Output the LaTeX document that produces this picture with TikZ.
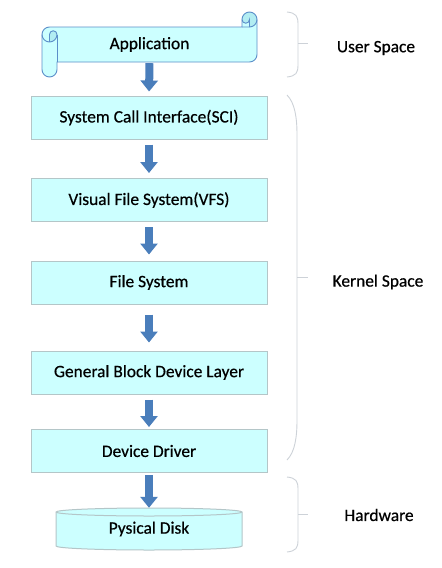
\documentclass[tikz,border=0pt]{standalone}
\usepackage{fontspec}
\setmainfont{Carlito}
\newfontfamily\lblfont{Carlito}[FakeBold=0.5]
\usetikzlibrary{arrows.meta}
\definecolor{boxfill}{HTML}{CCFFFF}
\definecolor{boxline}{HTML}{B4C6C8}
\definecolor{arrowblue}{HTML}{4A7EBB}
\definecolor{bracegray}{HTML}{CDD2D8}
\definecolor{scrollline}{HTML}{5B8EC9}
\definecolor{scrolldark}{HTML}{B2EDF2}
\begin{document}
\begin{tikzpicture}[x=1pt,y=-1pt,
  lbl/.style={font=\lblfont\fontsize{17.4}{20}\selectfont, inner sep=0pt},
  layer/.style={lbl, draw=boxline, fill=boxfill, line width=1pt,
    minimum width=236pt, minimum height=43pt},
  flow/.style={arrowblue, line width=8pt, -{Triangle[width=17pt,length=11pt]}},
  bracestyle/.style={draw=bracegray, line width=0.9pt},
  scrollstroke/.style={draw=scrollline, line width=0.9pt}]
\useasboundingbox (0,0) rectangle (442,568);
\fill[white] (0,0) rectangle (442,568);

% Application scroll
\fill[boxfill] (42,34.5) arc[start angle=180, delta angle=90, radius=7.5] -- (242,27) -- (242,19.5)
  arc[start angle=180, delta angle=180, radius=7.5] -- (257,54.5)
  arc[start angle=0, delta angle=90, radius=7.5] -- (57,62) -- (57,69.5)
  arc[start angle=0, delta angle=180, radius=7.5] -- cycle;
\fill[scrolldark] (49.5,42) arc[start angle=90, delta angle=-90, radius=7.5]
  arc[start angle=0, delta angle=-180, radius=3.75] -- cycle;
\fill[scrolldark] (249.5,27) arc[start angle=90, delta angle=-270, radius=7.5]
  arc[start angle=180, delta angle=-180, radius=3.75] -- cycle;
\draw[scrollstroke] (42,34.5) arc[start angle=180, delta angle=90, radius=7.5] -- (242,27) -- (242,19.5)
  arc[start angle=180, delta angle=180, radius=7.5] -- (257,54.5)
  arc[start angle=0, delta angle=90, radius=7.5] -- (57,62) -- (57,69.5)
  arc[start angle=0, delta angle=180, radius=7.5] -- cycle;
\draw[scrollstroke] (242,27) -- (249.5,27) arc[start angle=90, delta angle=-90, radius=7.5];
\draw[scrollstroke] (249.5,27) -- (249.5,19.5) arc[start angle=0, delta angle=180, radius=3.75];
\draw[scrollstroke] (49.5,42) -- (49.5,34.5) arc[start angle=180, delta angle=180, radius=3.75]
  arc[start angle=0, delta angle=180, radius=7.5];
\draw[scrollstroke] (57,34.5) -- (57,62);
\node[lbl, minimum width=215pt, minimum height=35pt] (app) at (149.5,44.5) {Application};

% Layers
\node[layer] (sci) at (149,117.5) {System Call Interface(SCI)};
\node[layer] (vfs) at (149,200) {Visual File System(VFS)};
\node[layer] (fs)  at (149,282.5) {File System};
\node[layer] (gb)  at (149,372.5) {General Block Device Layer};
\node[layer] (dd)  at (149,451) {Device Driver};

% Physical disk
\fill[boxfill] (56,512) -- (56,546) arc[start angle=180, delta angle=-180, x radius=93, y radius=4]
  -- (242,512) arc[start angle=0, delta angle=-180, x radius=93, y radius=4] -- cycle;
\draw[boxline, line width=1pt] (56,512) -- (56,546) arc[start angle=180, delta angle=-180, x radius=93, y radius=4]
  -- (242,512) arc[start angle=0, delta angle=-180, x radius=93, y radius=4] -- cycle;
\draw[boxline, line width=1pt] (56,512) arc[start angle=180, delta angle=-180, x radius=93, y radius=4];
\node[lbl, minimum width=186pt, minimum height=42pt] (disk) at (149,529) {Pysical Disk};

% Arrows
\draw[flow, shorten <=1pt, shorten >=4pt] (app.south) -- (sci.north);
\draw[flow, shorten <=5pt, shorten >=5pt] (sci.south) -- (vfs.north);
\draw[flow, shorten <=5pt, shorten >=6pt] (vfs.south) -- (fs.north);
\draw[flow, shorten <=10pt, shorten >=8pt] (fs.south) -- (gb.north);
\draw[flow, shorten <=5pt, shorten >=2pt] (gb.south) -- (dd.north);
\draw[flow, shorten <=2pt, shorten >=0pt] (dd.south) -- (disk.north);

% Braces
\draw[bracestyle] (287,12) .. controls (296,13) and (298,16) .. (298,24) -- (298,65)
  .. controls (298,73) and (296,76) .. (287,77);
\draw[bracestyle] (298,43) -- (308,43);
\draw[bracestyle] (287,95) .. controls (295,103) and (297,118) .. (297,135) -- (297,420)
  .. controls (297,437) and (295,452) .. (287,460);
\draw[bracestyle] (297,277) -- (308,277);
\draw[bracestyle] (287,477) .. controls (296,478) and (298,481) .. (298,489) -- (298,540)
  .. controls (298,548) and (296,551) .. (287,552);
\draw[bracestyle] (298,514) -- (308,514);

\node[lbl] (user) at (376,48) {User Space};
\node[lbl] (kernel) at (378,282) {Kernel Space};
\node[lbl] (hw) at (379,515) {Hardware};
\end{tikzpicture}
\end{document}
